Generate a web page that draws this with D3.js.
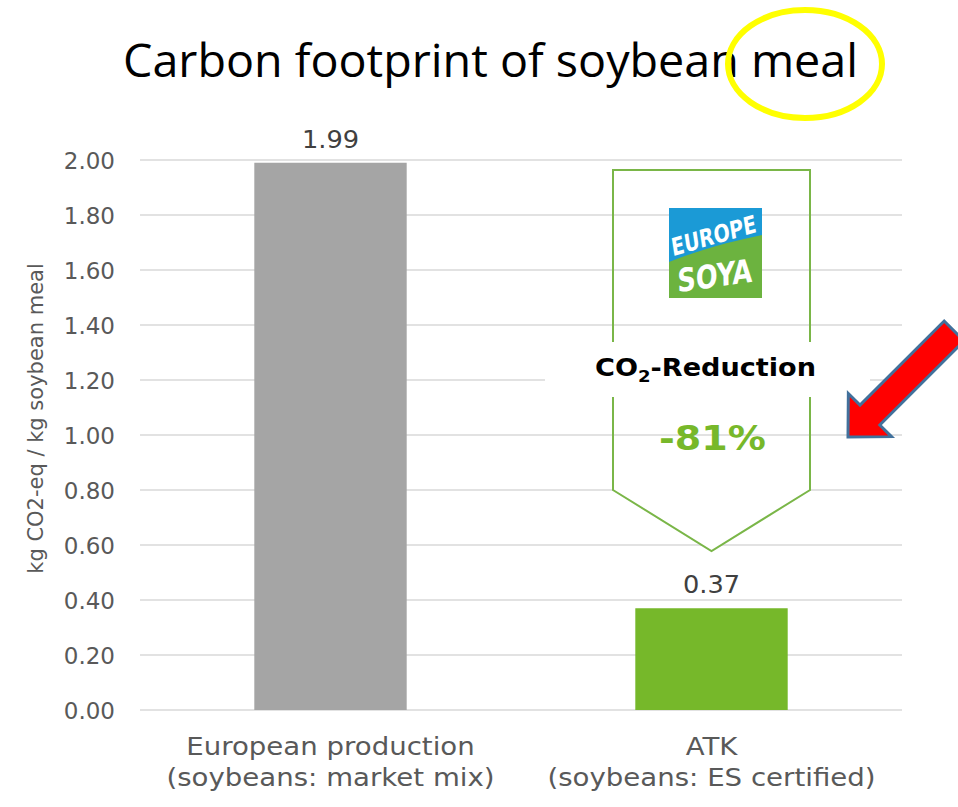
<!DOCTYPE html>
<html><head><meta charset="utf-8">
<script src="https://cdn.jsdelivr.net/npm/d3@7"></script>
<style>html,body{margin:0;padding:0;background:#fff}svg{display:block}</style>
</head><body>
<svg id="c" width="958" height="807"></svg>
<script>
const categories = ["European production|(soybeans: market mix)", "ATK|(soybeans: ES certified)"];
const values = [1.99, 0.37];
const valueLabels = ["1.99", "0.37"];
const yTicks = [0, 0.2, 0.4, 0.6, 0.8, 1.0, 1.2, 1.4, 1.6, 1.8, 2.0];
const titleText = "Carbon footprint of soybean meal";
const yTitle = "kg CO2-eq / kg soybean meal";
const reductionLabel = "-81%";

(function () {
const svg = d3.select("#c");
const pLeft = 140, pRight = 902, pTop = 160, pBottom = 710;
const txtCol = "#595959";
const FONT = "'DejaVu Sans', Verdana, sans-serif";

const x = d3.scaleBand().domain(categories).range([pLeft, pRight]).paddingInner(0.6).paddingOuter(0.3);
const y = d3.scaleLinear().domain([0, 2]).range([pBottom, pTop]);

// gridlines
svg.append("g").selectAll("line").data(yTicks).join("line")
  .attr("x1", pLeft).attr("x2", pRight)
  .attr("y1", d => y(d)).attr("y2", d => y(d))
  .attr("stroke", "#d9d9d9").attr("stroke-width", 1.3);

// y axis labels
const yAxis = svg.append("g").attr("transform", `translate(${pLeft},0)`)
  .call(d3.axisLeft(y).tickValues(yTicks).tickFormat(d3.format(".2f")).tickSize(0).tickPadding(25));
yAxis.select(".domain").remove();
yAxis.selectAll("text")
  .attr("dy", "0.36em")
  .attr("font-family", FONT).attr("font-size", 23).attr("fill", txtCol).attr("text-anchor", "end");

// y title
svg.append("text")
  .attr("transform", `translate(43,${(262+575)/2}) rotate(-90)`)
  .attr("text-anchor", "middle")
  .attr("font-family", FONT).attr("font-size", 21).attr("fill", txtCol)
  .text(yTitle);

// bars
const colors = ["#a5a5a5", "#76b82a"];
svg.append("g").selectAll("rect").data(values).join("rect")
  .attr("x", (d, i) => x(categories[i]))
  .attr("width", x.bandwidth())
  .attr("y", d => y(d))
  .attr("height", d => y(0) - y(d))
  .attr("fill", (d, i) => colors[i]);

// value labels
svg.append("g").selectAll("text").data(values).join("text")
  .attr("transform", (d, i) => `translate(${x(categories[i]) + x.bandwidth() / 2},${y(d) - 15}) scale(1.07,1)`)
  .attr("text-anchor", "middle")
  .attr("font-family", FONT).attr("font-size", 24).attr("fill", "#404040")
  .text((d, i) => valueLabels[i]);

// category labels
categories.forEach(c => {
  const cx = x(c) + x.bandwidth() / 2;
  c.split("|").forEach((line, j) => {
    svg.append("text")
      .attr("transform", `translate(${cx},${755 + j * 31}) scale(1.15,1)`)
      .attr("text-anchor", "middle")
      .attr("font-family", FONT).attr("font-size", 24).attr("fill", txtCol)
      .text(line);
  });
});

// shield annotation over ATK
const sc = x(categories[1]) + x.bandwidth() / 2;
const hw = 98.5;
const sTop = 170, sSide = 490, sTip = 551;
svg.append("path")
  .attr("d", `M${sc - hw},${sSide} L${sc - hw},${sTop} L${sc + hw},${sTop} L${sc + hw},${sSide} L${sc},${sTip} Z`)
  .attr("fill", "#fff").attr("stroke", "#7ab648").attr("stroke-width", 2);
svg.append("g").selectAll("line").data(yTicks.filter(d => y(d) > sTop && y(d) < sSide)).join("line")
  .attr("x1", sc - hw + 1).attr("x2", sc + hw - 1)
  .attr("y1", d => y(d)).attr("y2", d => y(d))
  .attr("stroke", "#d9d9d9").attr("stroke-width", 1.3);
svg.append("rect").attr("x", 545).attr("y", 342).attr("width", 325).attr("height", 55).attr("fill", "#fff");

// CO2-Reduction text
const co2 = svg.append("text")
  .attr("transform", `translate(${sc - 6},376) scale(1.13,1)`)
  .attr("text-anchor", "middle")
  .attr("font-family", FONT).attr("font-weight", "bold").attr("font-size", 24).attr("fill", "#000");
co2.append("tspan").text("CO");
co2.append("tspan").attr("font-size", 16).attr("dy", 6).text("2");
co2.append("tspan").attr("dy", -6).text("-Reduction");

svg.append("text")
  .attr("transform", `translate(${sc + 1},450) scale(1.12,1)`)
  .attr("text-anchor", "middle")
  .attr("font-family", FONT).attr("font-weight", "bold").attr("font-size", 34).attr("fill", "#77b82a")
  .text(reductionLabel);

// Europe Soya logo
const lg = svg.append("g").attr("transform", "translate(669,208)");
const lw = 93, lh = 90;
lg.append("rect").attr("width", lw).attr("height", lh).attr("fill", "#6cb33f");
lg.append("path")
  .attr("d", `M0,0 L${lw},0 L${lw},27 C65,33 35,40 0,54 Z`)
  .attr("fill", "#1b9ad6");
lg.append("text")
  .attr("transform", "translate(46,36) rotate(-16) scale(0.9,1) skewX(-8)")
  .attr("text-anchor", "middle")
  .attr("font-family", "'Liberation Sans Narrow','DejaVu Sans Condensed',sans-serif").attr("font-weight", "bold")
  .attr("font-size", 24).attr("fill", "#fff").text("EUROPE");
lg.append("text")
  .attr("transform", "translate(46,79) rotate(-8) scale(0.9,1) skewX(-8)")
  .attr("text-anchor", "middle")
  .attr("font-family", "'DejaVu Sans Condensed','DejaVu Sans',sans-serif").attr("font-weight", "bold")
  .attr("font-size", 32).attr("fill", "#fff").text("SOYA");

// red arrow
const T = [848, 437];
const ang = -45 * Math.PI / 180;
const u = [Math.cos(ang), Math.sin(ang)], n = [-u[1], u[0]];
const P = (a, b) => [T[0] + a * u[0] + b * n[0], T[1] + a * u[1] + b * n[1]];
const hl = 31, hwid = 30.5, sw = 14, L = 150;
const pts = [P(0, 0), P(hl, -hwid), P(hl, -sw), P(L, -sw), P(L, sw), P(hl, sw), P(hl, hwid)];
svg.append("polygon")
  .attr("points", pts.map(p => p.join(",")).join(" "))
  .attr("fill", "#ff0000").attr("stroke", "#41719c").attr("stroke-width", 3).attr("stroke-linejoin", "miter");

// title
svg.append("text")
  .attr("x", 123).attr("y", 77)
  .attr("textLength", 735).attr("lengthAdjust", "spacingAndGlyphs")
  .attr("font-family", "'Open Sans', sans-serif").attr("font-size", 45).attr("fill", "#000")
  .text(titleText);

// yellow highlight ellipse
svg.append("ellipse")
  .attr("cx", 805).attr("cy", 64).attr("rx", 77).attr("ry", 54)
  .attr("fill", "none").attr("stroke", "#ffff00").attr("stroke-width", 6);
})();
</script>
</body></html>
